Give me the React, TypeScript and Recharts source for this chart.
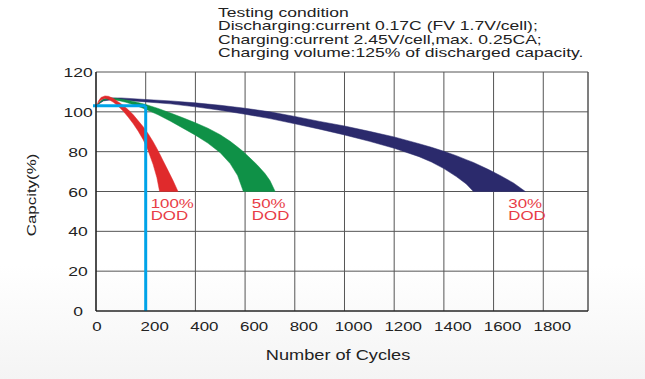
import React from "react";
import {
  ComposedChart,
  Area,
  XAxis,
  YAxis,
  CartesianGrid,
  ReferenceLine,
  ReferenceDot,
  Customized,
} from "recharts";

const titleLines = [
  "Testing condition",
  "Discharging:current 0.17C (FV 1.7V/cell);",
  "Charging:current 2.45V/cell,max. 0.25CA;",
  "Charging volume:125% of discharged capacity.",
];

const xTicks = [0, 200, 400, 600, 800, 1000, 1200, 1400, 1600, 1800];
const yTicks = [0, 20, 40, 60, 80, 100, 120];

// 100% DOD band: inner (low) and outer (high) capacity edge per cycle count
const redCycles = [0, 10, 20, 36, 50, 70, 90, 110, 130, 150, 170, 190, 210, 230, 245, 256, 270, 290, 310, 330];
const redLow = [102, 104.5, 106, 106.8, 106.3, 104.8, 102.8, 100.3, 97.3, 94, 90.3, 86, 80.5, 73.5, 67, 60, 60, 60, 60, 60];
const redHigh = [102, 105.5, 107.2, 108, 107.8, 106.7, 105, 103.2, 101, 98.5, 95.5, 92.5, 89, 85, 81.6, 79, 75.5, 70.5, 65.5, 60];

// 50% DOD band
const greenCycles = [0, 25, 50, 80, 120, 160, 200, 250, 300, 350, 400, 450, 500, 540, 570, 593, 620, 650, 680, 700, 721];
const greenLow = [103, 105.5, 106.5, 106, 104.8, 103.2, 101.3, 98.5, 95.3, 91.8, 88.3, 84.3, 79.5, 74, 68, 60, 60, 60, 60, 60, 60];
const greenHigh = [103, 106, 107, 106.8, 106, 105, 103.7, 101.7, 99.4, 97, 94.5, 91.8, 88.5, 85.2, 82.3, 80, 76.8, 73.2, 69, 65.5, 60];

// 30% DOD band
const navyCycles = [0, 30, 60, 100, 200, 300, 400, 500, 600, 700, 800, 900, 1000, 1100, 1200, 1300, 1350, 1400, 1450, 1490, 1519, 1580, 1630, 1680, 1728];
const navyLow = [103, 105.5, 106, 106, 105, 104, 102.5, 100.8, 98.8, 96.6, 94, 91.3, 88.4, 85.2, 81.7, 77.5, 74.8, 71.5, 67.5, 63.8, 60, 60, 60, 60, 60];
const navyHigh = [103, 106.5, 107, 107, 106.2, 105.5, 104.5, 103.3, 101.8, 100, 97.7, 95.2, 92.9, 90.2, 87.4, 84, 82.2, 80.2, 78, 76, 74.6, 71, 67.8, 64.3, 60];

const dodLabels = [
  { name: "100%", x: 220, y: 51.7 },
  { name: "50%", x: 627, y: 51.7 },
  { name: "30%", x: 1659, y: 51.7 },
];

const refCycles = 200;
const refCapacity = 103;

const band = (xs: number[], lo: number[], hi: number[]) =>
  xs.map((x, i) => ({ x, v: [lo[i], hi[i]] }));

const redData = band(redCycles, redLow, redHigh);
const greenData = band(greenCycles, greenLow, greenHigh);
const navyData = band(navyCycles, navyLow, navyHigh);

const FONT = "'Liberation Sans', Arial, sans-serif";
const STRETCH = 1.3;

function WideText({ x, y, size = 13, anchor = "start", fill = "#222", rotate = 0, stretch = STRETCH, children }: any) {
  return (
    <text
      transform={`translate(${x},${y}) rotate(${rotate}) scale(${stretch},1)`}
      textAnchor={anchor}
      fontFamily={FONT}
      fontSize={size}
      fill={fill}
    >
      {children}
    </text>
  );
}

function XTick({ x, payload }: any) {
  const shift = payload.value === 0 ? 1 : 9;
  return <WideText x={x + shift} y={331} anchor="middle">{payload.value}</WideText>;
}

function YTick({ y, payload }: any) {
  return <WideText x={78} y={y + 5} anchor="middle" size={13.5}>{payload.value}</WideText>;
}

function Title() {
  return (
    <g>
      {titleLines.map((t, i) => (
        <WideText key={i} x={218} y={17 + i * 13.3} stretch={1.35}>
          {t}
        </WideText>
      ))}
      <WideText x={338} y={360} anchor="middle" size={14}>Number of Cycles</WideText>
      <WideText x={36} y={195} anchor="middle" rotate={-90}>Capcity(%)</WideText>
    </g>
  );
}

function DodLabel({ cx, cy, name }: any) {
  return (
    <g>
      <WideText x={cx} y={cy} fill="#e83c46">{name}</WideText>
      <WideText x={cx} y={cy + 12} fill="#e83c46">DOD</WideText>
    </g>
  );
}

export default function App() {
  return (
    <div
      style={{
        position: "absolute",
        left: 0,
        top: 0,
        width: 645,
        height: 379,
        background: "linear-gradient(#ffffff 0%, #ffffff 70%, #f4f4f4 100%)",
      }}
    >
      <ComposedChart width={645} height={379} margin={{ top: 72, right: 57, bottom: 0, left: 0 }}>
        <CartesianGrid stroke="#555" strokeWidth={1} />
        <XAxis
          type="number"
          dataKey="x"
          domain={[0, 1980]}
          ticks={xTicks}
          height={68}
          tick={<XTick />}
          tickLine={false}
          axisLine={{ stroke: "#111", strokeWidth: 1.2 }}
          allowDataOverflow
        />
        <YAxis
          type="number"
          domain={[0, 120]}
          ticks={yTicks}
          width={96}
          tick={<YTick />}
          tickLine={false}
          axisLine={{ stroke: "#111", strokeWidth: 1.2 }}
        />
        <ReferenceLine x={1980} stroke="#555" />
        <Area
          data={navyData}
          dataKey="v"
          type="linear"
          fill="#2b2a6c"
          fillOpacity={1}
          stroke="#2b2a6c"
          strokeWidth={0.5}
          isAnimationActive={false}
          dot={false}
          activeDot={false}
        />
        <Area
          data={greenData}
          dataKey="v"
          type="linear"
          fill="#0f9147"
          fillOpacity={1}
          stroke="#0f9147"
          strokeWidth={0.5}
          isAnimationActive={false}
          dot={false}
          activeDot={false}
        />
        <Area
          data={redData}
          dataKey="v"
          type="linear"
          fill="#e02a2c"
          fillOpacity={1}
          stroke="#e02a2c"
          strokeWidth={0.5}
          isAnimationActive={false}
          dot={false}
          activeDot={false}
        />
        <ReferenceLine
          segment={[{ x: -12, y: refCapacity }, { x: refCycles, y: refCapacity }]}
          stroke="#00a3e8"
          strokeWidth={3}
          ifOverflow="visible"
        />
        <ReferenceLine
          segment={[{ x: refCycles, y: 0 }, { x: refCycles, y: refCapacity }]}
          stroke="#00a3e8"
          strokeWidth={3}
          ifOverflow="visible"
        />
        {dodLabels.map((d) => (
          <ReferenceDot
            key={d.name}
            x={d.x}
            y={d.y}
            r={0}
            ifOverflow="visible"
            shape={(p: any) => <DodLabel cx={p.cx} cy={p.cy} name={d.name} />}
          />
        ))}
        <Customized component={<Title />} />
      </ComposedChart>
    </div>
  );
}
